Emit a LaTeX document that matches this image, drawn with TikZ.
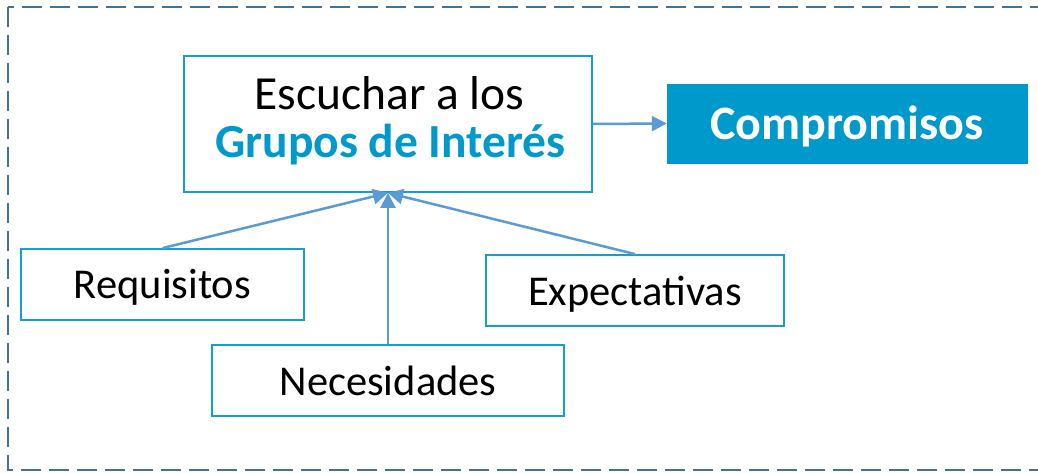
\documentclass[tikz,border=0pt]{standalone}
\usepackage{fontspec}
\setmainfont{Carlito}
\usetikzlibrary{arrows.meta}
\definecolor{boxline}{RGB}{22,158,212}
\definecolor{fillblue}{RGB}{0,153,204}
\definecolor{arrowblue}{RGB}{91,155,213}
\definecolor{frameblue}{RGB}{65,113,156}
\tikzset{
  box/.style={draw=boxline, line width=1.8pt, fill=white, inner sep=0pt, minimum width=#1},
  filledbox/.style={draw=fillblue, fill=fillblue, inner sep=0pt},
  big/.style={font=\fontsize{47.5}{48}\selectfont, inner sep=0pt, anchor=base},
  small/.style={font=\fontsize{42.5}{44}\selectfont, inner sep=0pt, anchor=base},
  conn/.style={draw=arrowblue, line width=2.5pt, -{Triangle[length=15pt,width=15pt]}},
  frame/.style={draw=frameblue, line width=2.2pt, dash pattern=on 20pt off 8pt}
}
\begin{document}
\begin{tikzpicture}[x=1pt,y=-1pt]
\useasboundingbox[fill=white] (0,0) rectangle (1038,473);
\draw[frame] (8,7) rectangle (1046,470);
% boxes
\node[box=408pt, minimum height=136pt] (main) at (388,124) {};
\node[filledbox, minimum width=360pt, minimum height=79pt] (comp) at (847,123.5) {};
\node[box=283pt, minimum height=71pt] (req) at (162.5,284.5) {};
\node[box=298pt, minimum height=71pt] (exp) at (635,290.5) {};
\node[box=352pt, minimum height=71pt] (nec) at (388,380.5) {};
% texts
\node[big] (t1) at (389.5,110) {Escuchar a los};
\node[big, text=fillblue, font=\fontsize{47.5}{48}\selectfont\bfseries] (t2) at (390.5,158) {Grupos de Interés};
\node[big, text=white, font=\fontsize{48}{48}\selectfont\bfseries] (t3) at (847,140) {Compromisos};
\node[small] (t4) at (162.5,298) {Requisitos};
\node[small] (t5) at (635,305) {Expectativas};
\node[small] (t6) at (388,395) {Necesidades};
% connectors
\draw[conn] (main.east) -- (comp.west);
\draw[conn] (req.north) -- (main.south);
\draw[conn] (nec.north) -- (main.south);
\draw[conn] (exp.north) -- (main.south);
\end{tikzpicture}
\end{document}
